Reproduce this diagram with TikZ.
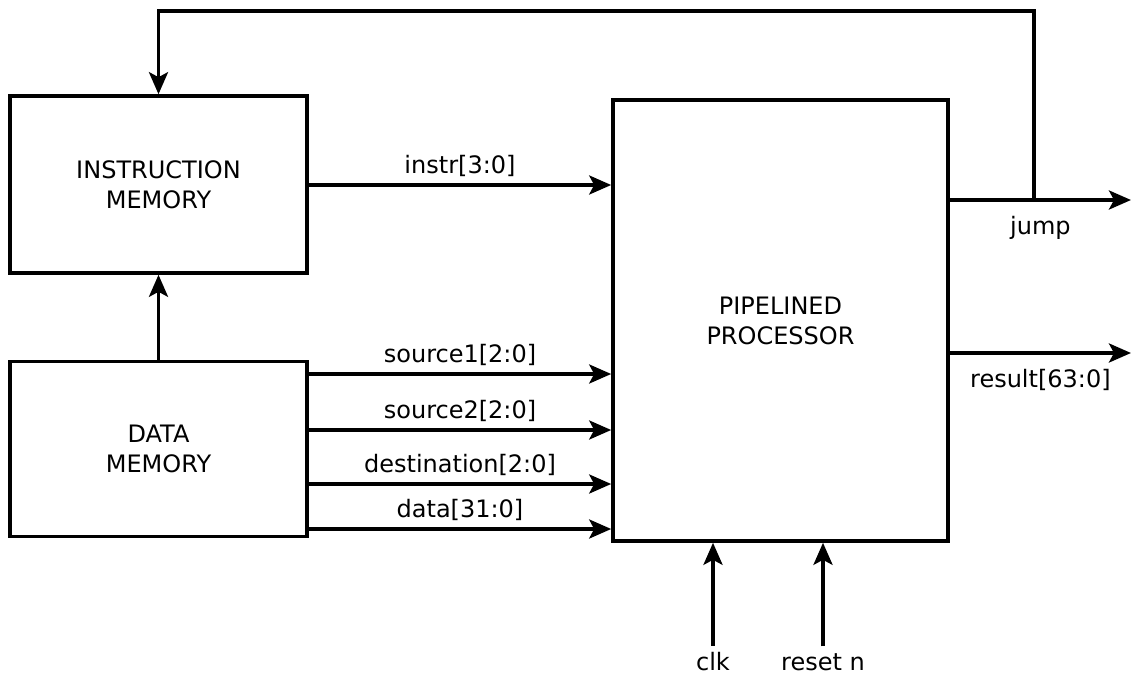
\documentclass[tikz,border=0pt]{standalone}
\usepackage{fontspec}
\setmainfont{DejaVu Sans}
\usetikzlibrary{arrows.meta, positioning, calc}

\begin{document}
\begin{tikzpicture}[x=0.5pt, y=-0.5pt,
    block/.style={draw, line width=1.8pt, align=center,
                  font=\fontsize{12}{15}\selectfont},
    sig/.style={line width=1.8pt, -{Stealth[length=11pt, width=9.5pt, inset=2.5pt]}},
    lbl/.style={font=\fontsize{12}{14}\selectfont}
]
    \useasboundingbox (0,0) rectangle (1131,674);

    % blocks
    \node[block, minimum width=148.5pt, minimum height=88.5pt] (imem) at (158.5,184.5) {INSTRUCTION\\MEMORY};
    \node[block, minimum width=148.5pt, minimum height=87.5pt] (dmem) at (158.5,449) {DATA\\MEMORY};
    \node[block, minimum width=167.5pt, minimum height=220.5pt] (proc) at (780.5,320.5) {PIPELINED\\PROCESSOR};

    % memory to processor
    \draw[sig] (dmem.north) -- (imem.south);
    \draw[sig] (imem.east |- 0,185) -- (proc.west |- 0,185) node[lbl, midway, above] {instr[3:0]};
    \draw[sig] (dmem.east |- 0,374) -- (proc.west |- 0,374) node[lbl, midway, above] {source1[2:0]};
    \draw[sig] (dmem.east |- 0,430) -- (proc.west |- 0,430) node[lbl, midway, above] {source2[2:0]};
    \draw[sig] (dmem.east |- 0,484) -- (proc.west |- 0,484) node[lbl, midway, above] {destination[2:0]};
    \draw[sig] (dmem.east |- 0,529) -- (proc.west |- 0,529) node[lbl, midway, above] {data[31:0]};

    % outputs
    \coordinate (jumpout) at (1131,200);
    \coordinate (resout) at (1131,353);
    \coordinate (jtap) at (1034,200);
    \draw[sig] (proc.east |- jumpout) -- (jumpout) node[lbl, midway, below=4pt] {jump};
    \draw[sig] (proc.east |- resout) -- (resout) node[lbl, midway, below=4pt] {result[63:0]};
    \draw[sig] (jtap) |- (imem.north |- 0,11) -- (imem.north);

    % clock and reset
    \node[lbl] (clk) at (713,662) {clk};
    \node[lbl] (rst) at (823,662) {reset n};
    \draw[sig] (clk) -- (clk |- proc.south);
    \draw[sig] (rst) -- (rst |- proc.south);
\end{tikzpicture}
\end{document}
